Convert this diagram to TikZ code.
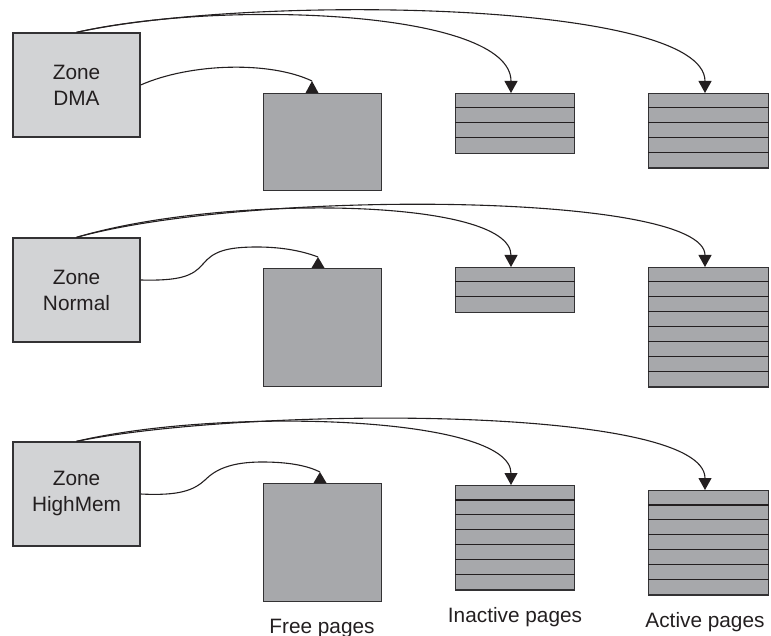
\documentclass[tikz,border=0pt]{standalone}
\usepackage{fontspec}
\setmainfont{Liberation Sans}
\usetikzlibrary{arrows.meta,calc}
\definecolor{zonefill}{HTML}{D2D3D5}
\definecolor{pagefill}{HTML}{A7A8AB}
\definecolor{ink}{HTML}{231F20}
\definecolor{boxline}{HTML}{333234}
\tikzset{
  lbl/.style={font=\fontsize{20.8}{26}\selectfont, text=ink, inner sep=0pt},
  zonebox/.style={draw=boxline, fill=zonefill, line width=1.3pt, minimum width=127pt,
    minimum height=104pt, inner sep=0pt, align=center, lbl},
  pagebox/.style={draw=boxline, fill=pagefill, line width=1.3pt, inner sep=0pt},
  rowline/.style={draw=ink, line width=1.2pt},
  conn/.style={draw=ink, line width=1.1pt},
  connarrow/.style={conn, -{Triangle[width=13pt,length=12pt]}},
  freetip/.style={fill=ink},
}
\newcommand\pagestack[5]{% name, x, y, width, rows
  \node[pagebox, minimum width=#4pt, minimum height=#5*14.9pt, anchor=north west] (#1) at (#2,#3) {};
  \pgfmathtruncatemacro\lastrow{#5-1}
  \foreach \k in {1,...,\lastrow}
    \draw[rowline] ($(#1.north west)+(0,\k*14.9)$) -- ($(#1.north east)+(0,\k*14.9)$);
}
\begin{document}
\begin{tikzpicture}[x=1pt,y=-1pt]
\useasboundingbox (0,0) rectangle (771,636);

% zones
\node[zonebox] (zd) at (76.5,85) {Zone\\DMA};
\node[zonebox] (zn) at (76.5,290) {Zone\\Normal};
\node[zonebox] (zh) at (76.5,494) {Zone\\HighMem};

% free page blocks
\node[pagebox, minimum width=118pt, minimum height=97pt, anchor=north west] (fd) at (263,93) {};
\node[pagebox, minimum width=118pt, minimum height=118pt, anchor=north west] (fn) at (263,268) {};
\node[pagebox, minimum width=118pt, minimum height=118pt, anchor=north west] (fh) at (263,483) {};

% inactive / active stacks
\pagestack{id}{455}{93}{119}{4}
\pagestack{ad}{648}{93}{120}{5}
\pagestack{in}{455}{267}{119}{3}
\pagestack{an}{648}{267}{120}{8}
\pagestack{ih}{455}{485}{119}{7}
\pagestack{ah}{648}{490}{120}{7}

% arrow end points
\coordinate (idT) at ($(id.north west)+(56,0)$);
\coordinate (adT) at ($(ad.north west)+(57,0)$);
\coordinate (inT) at ($(in.north west)+(56,0)$);
\coordinate (anT) at ($(an.north west)+(57,0)$);
\coordinate (ihT) at ($(ih.north west)+(56,0)$);
\coordinate (ahT) at ($(ah.north west)+(57,0)$);
\coordinate (fdT) at ($(fd.north west)+(49,-12)$);
\coordinate (fnT) at ($(fn.north west)+(55,-11)$);
\coordinate (fhT) at ($(fh.north west)+(57,-11)$);

% DMA connectors
\draw[connarrow] (zd.north) .. controls +(173.5,-38) and +(0,-93) .. (adT);
\draw[connarrow] (zd.north) .. controls +(146,-33) and +(0,-83) .. (idT);
\draw[conn] (zd.east) .. controls +(50,-22) and +(-42,-20) .. (fdT);
\fill[freetip] (fdT) -- ++(6.5,12) -- ++(-13,0) -- cycle;

% Normal connectors
\draw[connarrow] (zn.north) .. controls +(173.5,-48) and +(0,-75) .. (anT);
\draw[connarrow] (zn.north) .. controls +(143.5,-43) and +(0,-70) .. (inT);
\draw[conn] ($(zn.east)+(0,-10)$) .. controls (180,281) and (193,276) .. (203,264)
  .. controls (213,252) and (225,247) .. (257,247)
  .. controls (285,247) and (305,252) .. (fnT);
\fill[freetip] (fnT) -- ++(6.5,11) -- ++(-13,0) -- cycle;

% HighMem connectors
\draw[connarrow] (zh.north) .. controls +(173.5,-35) and +(0,-85) .. (ahT);
\draw[connarrow] (zh.north) .. controls +(143.5,-34) and +(0,-70) .. (ihT);
\draw[conn] (zh.east) .. controls (180,496) and (194,490) .. (205,480)
  .. controls (215,470) and (230,462) .. (262,462)
  .. controls (290,462) and (308,466) .. (fhT);
\fill[freetip] (fhT) -- ++(6.5,11) -- ++(-13,0) -- cycle;

% labels
\node[lbl, anchor=base] (lfree) at (322,633) {Free pages};
\node[lbl, anchor=base] (linact) at (515,622) {Inactive pages};
\node[lbl, anchor=base] (lact) at (705,627) {Active pages};
\end{tikzpicture}
\end{document}
